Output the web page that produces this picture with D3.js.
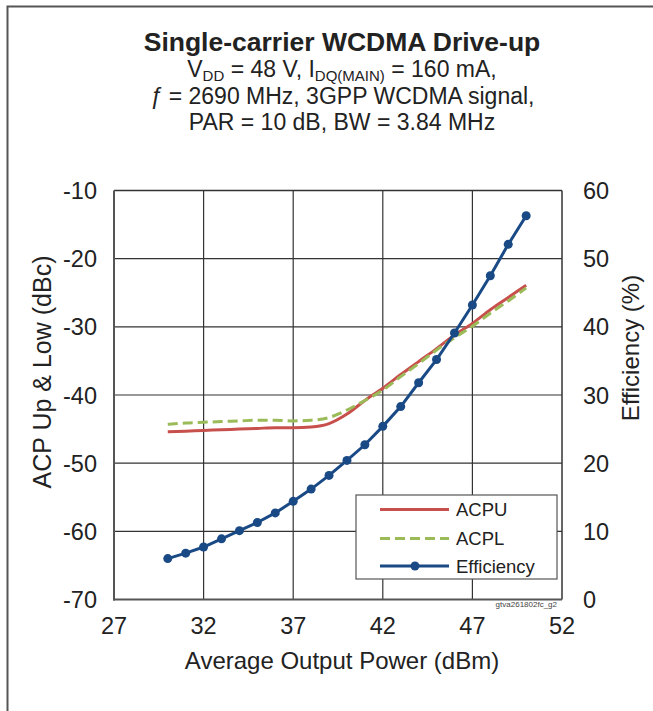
<!DOCTYPE html>
<html><head><meta charset="utf-8">
<script src="https://cdn.jsdelivr.net/npm/d3@7"></script>
<style>body{margin:0;background:#fff}svg{display:block;font-family:Arial,"Liberation Sans",sans-serif}</style>
</head><body><svg id="c" width="653" height="711"></svg>
<script>
const power = [30,31,32,33,34,35,36,37,38,39,40,41,42,43,44,45,46,47,48,49,50];
const acpu = [-45.4,-45.3,-45.2,-45.1,-45.0,-44.9,-44.8,-44.8,-44.7,-44.2,-42.8,-40.8,-39.0,-37.0,-35.1,-33.2,-31.2,-29.5,-27.5,-25.7,-23.9];
const acpl = [-44.3,-44.1,-44.0,-43.9,-43.8,-43.7,-43.7,-43.8,-43.7,-43.3,-42.2,-40.8,-39.3,-37.3,-35.4,-33.4,-31.6,-29.9,-28.0,-26.2,-24.3];
const efficiency = [6.0,6.8,7.7,8.9,10.1,11.3,12.7,14.4,16.2,18.2,20.4,22.7,25.4,28.3,31.8,35.2,39.1,43.2,47.5,52.1,56.3];
const xTicks = [27,32,37,42,47,52];
const yLeftTicks = [-70,-60,-50,-40,-30,-20,-10];
const yRightTicks = [0,10,20,30,40,50,60];
const seriesNames = ["ACPU","ACPL","Efficiency"];

const svg = d3.select("#c");
const L=114, R=562, T=190.5, B=599.5;
const x = d3.scaleLinear().domain([27,52]).range([L,R]);
const yL = d3.scaleLinear().domain([-70,-10]).range([B,T]);
const yR = d3.scaleLinear().domain([0,60]).range([B,T]);
const red="#C8504C", green="#9BBB59", blue="#1A4A85";

// outer frame
svg.append("path").attr("d","M7.5,711 L7.5,6.5 L653,6.5").attr("fill","none").attr("stroke","#555").attr("stroke-width",2);

// titles
svg.append("text").attr("x",342).attr("y",51).attr("text-anchor","middle").attr("font-size",26.5).attr("font-weight","bold").attr("fill","#222").text("Single-carrier WCDMA Drive-up");
const sub = svg.append("g").attr("font-size",23).attr("fill","#222").attr("text-anchor","middle");
const t1 = sub.append("text").attr("x",342).attr("y",77);
t1.append("tspan").text("V");
t1.append("tspan").attr("font-size",15).attr("dy",4).text("DD");
t1.append("tspan").attr("dy",-4).text(" = 48 V, I");
t1.append("tspan").attr("font-size",15).attr("dy",4).text("DQ(MAIN)");
t1.append("tspan").attr("dy",-4).text(" = 160 mA,");
const t2 = sub.append("text").attr("x",342).attr("y",104);
t2.append("tspan").attr("font-style","italic").text("ƒ");
t2.append("tspan").text(" = 2690 MHz, 3GPP WCDMA signal,");
sub.append("text").attr("x",342).attr("y",130).text("PAR = 10 dB, BW = 3.84 MHz");

// grid
const g = svg.append("g");
g.selectAll(".vg").data(xTicks.slice(1,-1)).join("line").attr("x1",d=>x(d)).attr("x2",d=>x(d)).attr("y1",T).attr("y2",B).attr("stroke","#333").attr("stroke-width",1.2);
g.selectAll(".hg").data(yLeftTicks.slice(1,-1)).join("line").attr("y1",d=>yL(d)).attr("y2",d=>yL(d)).attr("x1",L).attr("x2",R).attr("stroke","#333").attr("stroke-width",1.2);
// border
g.append("line").attr("x1",L).attr("x2",R).attr("y1",T).attr("y2",T).attr("stroke","#333").attr("stroke-width",1.5);
g.append("line").attr("x1",R).attr("x2",R).attr("y1",T).attr("y2",B).attr("stroke","#333").attr("stroke-width",1.5);
g.append("line").attr("x1",L).attr("x2",L).attr("y1",T).attr("y2",B+1).attr("stroke","#555").attr("stroke-width",2);
g.append("line").attr("x1",L-1).attr("x2",R).attr("y1",B).attr("y2",B).attr("stroke","#555").attr("stroke-width",2);

// axes labels
const ax = svg.append("g").attr("font-size",23.5).attr("fill","#222");
ax.selectAll(".xl").data(xTicks).join("text").attr("x",d=>x(d)).attr("y",634).attr("text-anchor","middle").text(d=>d);
ax.selectAll(".yl").data(yLeftTicks).join("text").attr("x",97).attr("y",d=>yL(d)+8.5).attr("text-anchor","end").text(d=>d);
ax.selectAll(".yr").data(yRightTicks).join("text").attr("x",583).attr("y",d=>yR(d)+8.5).attr("text-anchor","start").text(d=>d);
svg.append("text").attr("x",342).attr("y",669).attr("text-anchor","middle").attr("font-size",24).attr("fill","#222").text("Average Output Power (dBm)");
svg.append("text").attr("transform","translate(51,372) rotate(-90)").attr("text-anchor","middle").attr("font-size",25).attr("fill","#222").text("ACP Up & Low (dBc)");
svg.append("text").attr("transform","translate(639,348) rotate(-90)").attr("text-anchor","middle").attr("font-size",24).attr("fill","#222").text("Efficiency (%)");

// series
const lineL = d3.line().x((d,i)=>x(power[i])).y(d=>yL(d)).curve(d3.curveMonotoneX);
svg.append("path").attr("d",lineL(acpu)).attr("fill","none").attr("stroke",red).attr("stroke-width",3);
svg.append("path").attr("d",lineL(acpl)).attr("fill","none").attr("stroke",green).attr("stroke-width",3).attr("stroke-dasharray","10,5");
const lineR = d3.line().x((d,i)=>x(power[i])).y(d=>yR(d));
svg.append("path").attr("d",lineR(efficiency)).attr("fill","none").attr("stroke",blue).attr("stroke-width",3);
svg.selectAll(".pt").data(efficiency).join("circle").attr("cx",(d,i)=>x(power[i])).attr("cy",d=>yR(d)).attr("r",4.5).attr("fill",blue);

// legend
const lg = svg.append("g");
lg.append("rect").attr("x",356).attr("y",495).attr("width",201).attr("height",84).attr("fill","#fff").attr("stroke","#555").attr("stroke-width",1.2);
const ly = [509.5,538.5,566];
const cols=[red,green,blue];
seriesNames.forEach((n,i)=>{
  const ln = lg.append("line").attr("x1",380).attr("x2",449).attr("y1",ly[i]).attr("y2",ly[i]).attr("stroke",cols[i]).attr("stroke-width",3);
  if(i===1) ln.attr("stroke-dasharray","10,5");
  if(i===2) lg.append("circle").attr("cx",415).attr("cy",ly[i]).attr("r",4.5).attr("fill",blue);
  lg.append("text").attr("x",456).attr("y",ly[i]+6.5).attr("font-size",18.5).attr("fill","#222").text(n);
});
svg.append("text").attr("x",557).attr("y",607).attr("text-anchor","end").attr("font-size",8).attr("fill","#444").text("gtva261802fc_g2");
</script></body></html>
